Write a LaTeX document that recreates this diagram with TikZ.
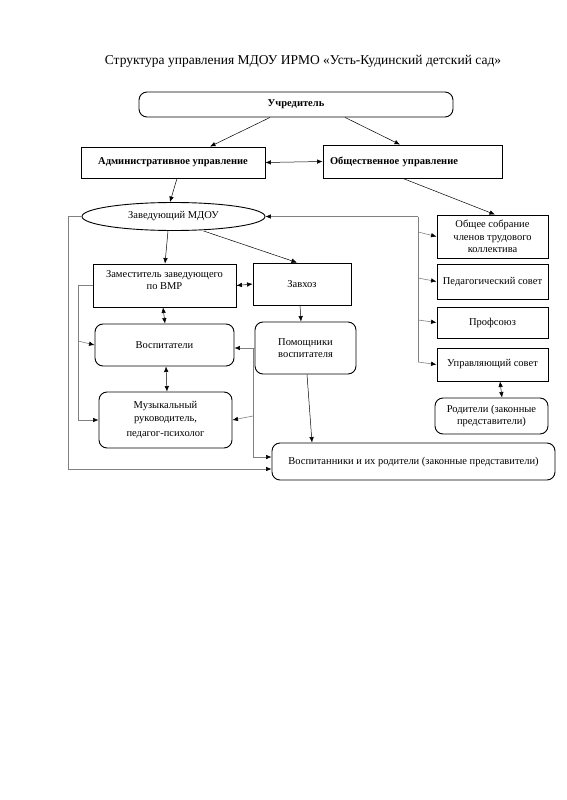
\documentclass[tikz,border=0pt]{standalone}
\usepackage{fontspec}
\setmainfont{Liberation Serif}
\usetikzlibrary{arrows.meta,shapes.geometric}
\begin{document}
\begin{tikzpicture}[x=1pt,y=-1pt,
  box/.style={draw, line width=0.9pt, inner sep=2pt, align=center, font=\fontsize{10.5}{12.5}\selectfont},
  rbox/.style={box, rounded corners=8pt},
  bbox/.style={box, font=\fontsize{10.5}{12.5}\selectfont\bfseries},
  arr/.style={-{Latex[length=5.5pt,width=4.5pt]}, line width=0.5pt},
  darr/.style={{Latex[length=5.5pt,width=4.5pt]}-{Latex[length=5.5pt,width=4.5pt]}, line width=0.5pt},
  gl/.style={draw=black!50, line width=0.6pt},
  garr/.style={gl, -{Latex[length=5.5pt,width=4.5pt,color=black]}}
]
\useasboundingbox (0,0) rectangle (566,800);
\node[font=\fontsize{13.5}{15}\selectfont] (title) at (303,61) {Структура управления МДОУ ИРМО «Усть-Кудинский детский сад»};

\node[bbox, rounded corners=8pt, minimum width=314, minimum height=25] (uch) at (296,104.5) {Учредитель};
\node[bbox, minimum width=184, minimum height=31] (adm) at (173,162.5) {Административное управление};
\node[bbox, minimum width=179, minimum height=33, text width=165, align=left, inner xsep=7pt] (obsh) at (412.5,161.5) {Общественное управление};

\node[box, ellipse, inner sep=0pt, minimum width=183, minimum height=28] (ell) at (173.5,216.5) {Заведующий МДОУ};

\node[box, minimum width=143, minimum height=43] (zam) at (164.5,285.5) {Заместитель заведующего\\по ВМР\\[-2pt]\mbox{}};
\node[box, minimum width=98, minimum height=42] (zav) at (302,284) {Завхоз};
\node[rbox, minimum width=139, minimum height=42] (vosp) at (164.5,345) {Воспитатели};
\node[rbox, minimum width=133, minimum height=56] (muz) at (165.5,420) {Музыкальный\\руководитель,\\[3pt]педагог-психолог};
\node[rbox, minimum width=101, minimum height=52] (pom) at (305.5,348) {Помощники\\воспитателя};

\node[box, minimum width=111, minimum height=43] (obs1) at (492.5,236.5) {Общее собрание\\членов трудового\\коллектива};
\node[box, minimum width=111, minimum height=35] (ped) at (492.5,281.5) {Педагогический совет};
\node[box, minimum width=111, minimum height=31] (prof) at (492.5,322.5) {Профсоюз};
\node[box, minimum width=111, minimum height=33] (upr) at (492.5,364.5) {Управляющий совет};
\node[rbox, minimum width=113, minimum height=36] (rod) at (491.5,416) {Родители (законные\\представители)};
\node[rbox, minimum width=283, minimum height=37] (vospit) at (413.5,461.5) {Воспитанники и их родители (законные представители)};

% black arrows
\draw[arr] ([xshift=-26pt]uch.south) -- ([xshift=37pt]adm.north);
\draw[arr] ([xshift=49pt]uch.south) -- ([xshift=-12.5pt]obsh.north);
\draw[darr] (adm.east) -- (obsh.west);
\draw[arr] ([xshift=4pt]adm.south) -- ([xshift=-3.5pt]ell.north);
\draw[arr] ([xshift=-9.5pt]obsh.south) -- ([xshift=2.5pt]obs1.north);
\draw[arr] ([xshift=-5.5pt]ell.south) -- ([xshift=0.5pt]zam.north);
\draw[arr] ([xshift=30pt]ell.south) -- ([xshift=-5pt]zav.north);
\draw[darr] (zam.east) -- (zav.west);
\draw[darr] ([xshift=-1.5pt]zam.south) -- ([xshift=0.5pt]vosp.north);
\draw[darr] ([xshift=1.5pt]vosp.south) -- ([xshift=1.5pt]muz.north);
\draw[arr] ([xshift=-2pt]zav.south) -- ([xshift=-4.5pt]pom.north);
\draw[arr] ([xshift=1.5pt]pom.south) -- ([xshift=-101.5pt]vospit.north);
\draw[darr] ([xshift=7.5pt]upr.south) -- ([xshift=10.5pt]rod.north);

% outer left loop
\coordinate (L1) at (68,469);
\draw[garr] (ell.west) -| (L1) -- (L1 -| vospit.west);

% left bracket
\coordinate (L2) at (78,420);
\coordinate (L3) at (78,341);
\draw[garr] (zam.west) -| (L2) -- (muz.west);
\draw[garr] (L3) -- (vosp.west);

% middle bracket
\coordinate (M1) at (253,348);
\coordinate (M2) at (253,416);
\coordinate (M3) at (253,457);
\draw[garr] (pom.west) -- (vosp.east |- pom.west);
\draw[gl] (M1) -- (M3);
\draw[garr] (M2) -- (muz.east);
\draw[garr] (M3) -- (M3 -| vospit.west);

% right bracket
\coordinate (R1) at (418,216.5);
\coordinate (R2) at (418,362);
\draw[gl] (R1) -- (R2);
\draw[garr] (R1) -- (ell.east);
\draw[garr] (418,232) -- (obs1.west);
\draw[garr] (418,278) -- (ped.west);
\draw[garr] (418,320) -- (prof.west);
\draw[garr] (R2) -- (upr.west);
\end{tikzpicture}
\end{document}
